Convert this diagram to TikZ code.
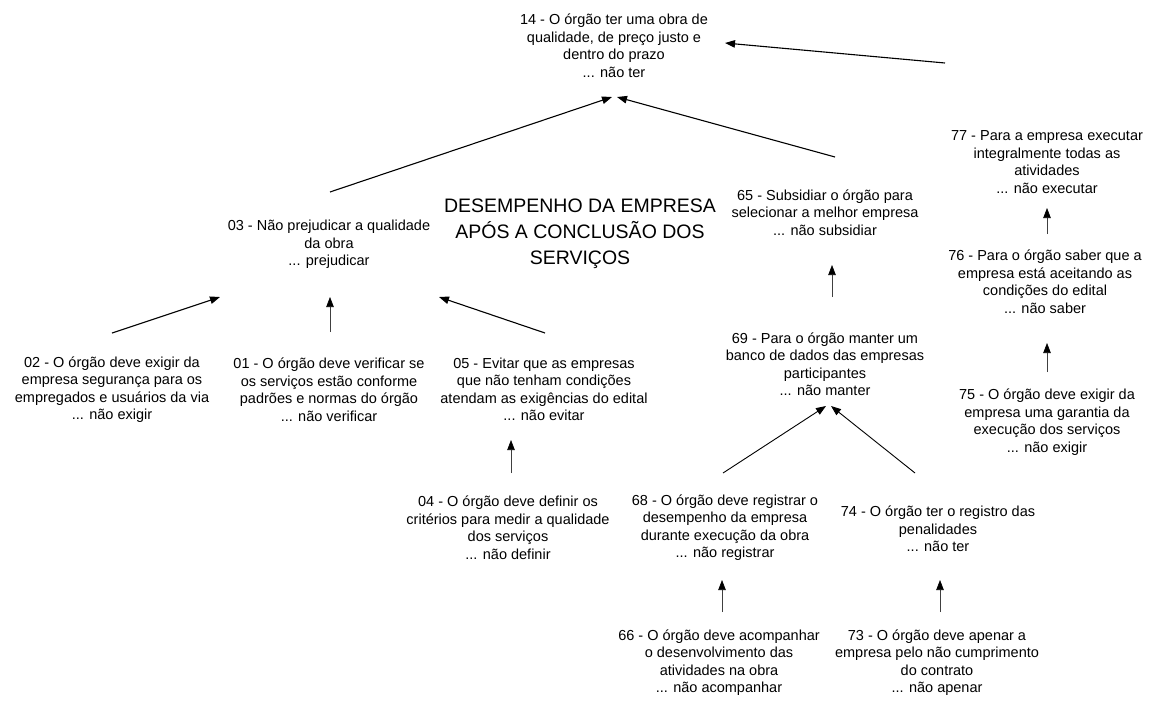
\documentclass[tikz,border=0pt]{standalone}
\usepackage{fontspec}
\setmainfont{Liberation Sans}
\usetikzlibrary{arrows.meta,calc}

\tikzset{
  lbl/.style={align=center, inner sep=0pt,
    font=\fontsize{14.5}{17.5}\selectfont},
  ttl/.style={align=center, inner sep=0pt,
    font=\fontsize{19.5}{26}\selectfont},
  arr/.style={line width=1.1pt, -{Triangle[length=10pt,width=7.5pt]}},
  varr/.style={line width=0.6pt, black!75, -{Triangle[length=10pt,width=7.5pt,fill=black,color=black]}}
}

\begin{document}
\begin{tikzpicture}[x=1pt,y=-1pt]
\useasboundingbox (0,0) rectangle (1153,702);

% concepts
\node[lbl] (n14) at (614,45.5) {14 - O órgão ter uma obra de\\qualidade, de preço justo e\\dentro do prazo\\... não ter};
\node[lbl] (n77) at (1047,162) {77 - Para a empresa executar\\integralmente todas as\\atividades\\... não executar};
\node[lbl] (n76) at (1045,281.5) {76 - Para o órgão saber que a\\empresa está aceitando as\\condições do edital\\... não saber};
\node[lbl] (n75) at (1047,422) {75 - O órgão deve exigir da\\empresa uma garantia da\\execução dos serviços\\... não exigir};
\node[lbl] (n65) at (825,212.5) {65 - Subsidiar o órgão para\\selecionar a melhor empresa\\... não subsidiar};
\node[lbl] (n69) at (825,364) {69 - Para o órgão manter um\\banco de dados das empresas\\participantes\\... não manter};
\node[lbl] (n68) at (725,527.5) {68 - O órgão deve registrar o\\desempenho da empresa\\durante execução da obra\\... não registrar};
\node[lbl] (n74) at (938,529) {74 - O órgão ter o registro das\\penalidades\\... não ter};
\node[lbl] (n66) at (719,662.5) {66 - O órgão deve acompanhar\\o desenvolvimento das\\atividades na obra\\... não acompanhar};
\node[lbl] (n73) at (937,662.5) {73 - O órgão deve apenar a\\empresa pelo não cumprimento\\do contrato\\... não apenar};
\node[lbl] (n03) at (329,244.5) {03 - Não prejudicar a qualidade\\da obra\\... prejudicar};
\node[lbl] (n02) at (112,389.5) {02 - O órgão deve exigir da\\empresa segurança para os\\empregados e usuários da via\\... não exigir};
\node[lbl] (n01) at (329,389.5) {01 - O órgão deve verificar se\\os serviços estão conforme\\padrões e normas do órgão\\... não verificar};
\node[lbl] (n05) at (544,389.5) {05 - Evitar que as empresas\\que não tenham condições\\atendam as exigências do edital\\... não evitar};
\node[lbl] (n04) at (508,527.5) {04 - O órgão deve definir os\\critérios para medir a qualidade\\dos serviços\\... não definir};

% heading
\node[ttl] (title) at (580,234) {DESEMPENHO DA EMPRESA\\APÓS A CONCLUSÃO DOS\\SERVIÇOS};

% links towards 14
\draw[arr] ($(n03)+(1,-52.5)$) -- ($(n14)+(-2,51.5)$);
\draw[arr] ($(n65)+(10,-55.5)$) -- ($(n14)+(3,51.5)$);
\draw[arr] ($(n77)+(-102,-99)$) -- ($(n14)+(111,-2.5)$);

% right column
\draw[varr] ($(n76)+(2,-47.5)$) -- ($(n77)+(0,46)$);
\draw[varr] ($(n75)+(0,-50)$) -- ($(n76)+(2,61.5)$);

% middle column
\draw[varr] ($(n69)+(7,-67)$) -- ($(n65)+(7,52.5)$);
\draw[arr, line width=0.9pt] ($(n68)+(-2,-54.5)$) -- ($(n69)+(1,42)$);
\draw[arr, line width=0.9pt] ($(n74)+(-23,-56)$) -- ($(n69)+(6,42)$);
\draw[varr] ($(n66)+(3,-50.5)$) -- ($(n68)+(-3,52.5)$);
\draw[varr] ($(n73)+(3,-50.5)$) -- ($(n74)+(2,51)$);

% left group
\draw[arr] ($(n02)+(0,-56.5)$) -- ($(n03)+(-109,52.5)$);
\draw[varr] ($(n01)+(1,-57.5)$) -- ($(n03)+(1,52.5)$);
\draw[arr] ($(n05)+(1,-56.5)$) -- ($(n03)+(110,52.5)$);
\draw[varr] ($(n04)+(3,-54.5)$) -- ($(n05)+(-33,50.5)$);
\end{tikzpicture}
\end{document}
